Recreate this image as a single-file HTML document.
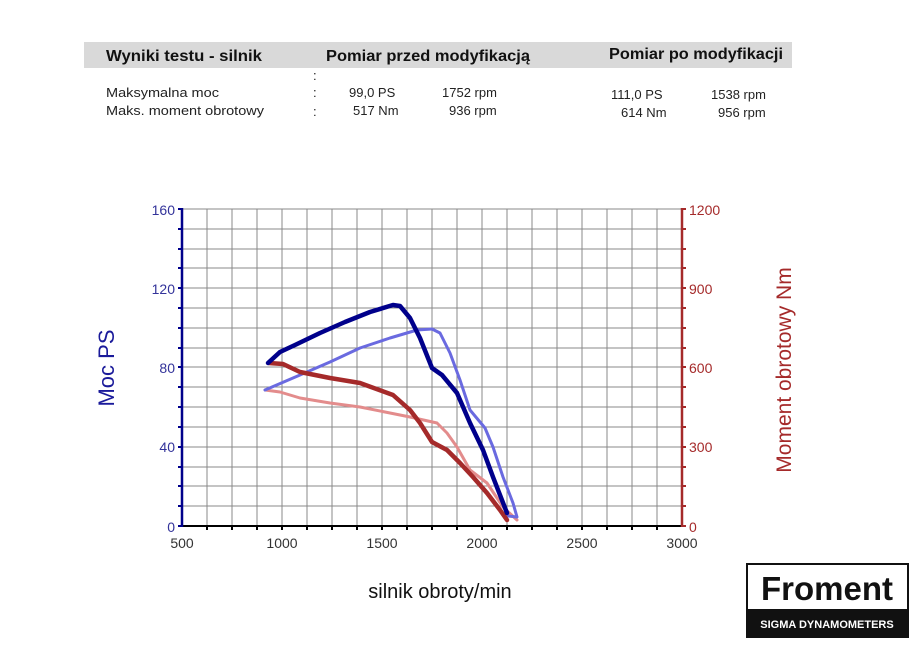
<!DOCTYPE html>
<html><head><meta charset="utf-8"><style>
body{margin:0;background:#fff;width:915px;height:649px;overflow:hidden;font-family:"Liberation Sans",Arial,sans-serif}
</style></head><body>
<svg width="915" height="649" viewBox="0 0 915 649" xmlns="http://www.w3.org/2000/svg" font-family="Liberation Sans, Arial, sans-serif">
<rect x="84" y="42" width="708" height="26" fill="#d9d9d9"/>
<g font-weight="bold" font-size="16" fill="#111">
<text x="106" y="61" textLength="156" lengthAdjust="spacingAndGlyphs">Wyniki testu - silnik</text>
<text x="326" y="61" textLength="204" lengthAdjust="spacingAndGlyphs">Pomiar przed modyfikacją</text>
<text x="609" y="59" textLength="174" lengthAdjust="spacingAndGlyphs">Pomiar po modyfikacji</text>
</g>
<g font-size="13" fill="#222">
<text x="313" y="80">:</text>
<text x="106" y="97" textLength="113" lengthAdjust="spacingAndGlyphs">Maksymalna moc</text><text x="313" y="97">:</text>
<text x="349" y="97">99,0 PS</text><text x="442" y="97">1752 rpm</text>
<text x="611" y="99">111,0 PS</text><text x="711" y="99">1538 rpm</text>
<text x="106" y="115" textLength="158" lengthAdjust="spacingAndGlyphs">Maks. moment obrotowy</text><text x="313" y="116">:</text>
<text x="353" y="115">517 Nm</text><text x="449" y="115">936 rpm</text>
<text x="621" y="117">614 Nm</text><text x="718" y="117">956 rpm</text>
</g>
<g stroke="#888" stroke-width="1">
<path d="M207 209V526M232 209V526M257 209V526M282 209V526M307 209V526M332 209V526M357 209V526M382 209V526M407 209V526M432 209V526M457 209V526M482 209V526M507 209V526M532 209V526M557 209V526M582 209V526M607 209V526M632 209V526M657 209V526"/>
<path d="M182 209H682M182 229H682M182 249H682M182 268H682M182 288H682M182 308H682M182 328H682M182 348H682M182 367H682M182 387H682M182 407H682M182 427H682M182 447H682M182 467H682M182 486H682M182 506H682"/>
</g>
<line x1="181" y1="526" x2="682" y2="526" stroke="#000" stroke-width="2"/>
<g stroke="#000" stroke-width="2"><path d="M207 526v4M232 526v4M257 526v4M282 526v4M307 526v4M332 526v4M357 526v4M382 526v4M407 526v4M432 526v4M457 526v4M482 526v4M507 526v4M532 526v4M557 526v4M582 526v4M607 526v4M632 526v4M657 526v4"/></g>
<line x1="182" y1="208" x2="182" y2="527" stroke="#00008b" stroke-width="2.5"/>
<g stroke="#00008b" stroke-width="2"><path d="M178 209h4M178 229h4M178 249h4M178 268h4M178 288h4M178 308h4M178 328h4M178 348h4M178 367h4M178 387h4M178 407h4M178 427h4M178 447h4M178 467h4M178 486h4M178 506h4M178 526h4"/></g>
<line x1="682" y1="208" x2="682" y2="527" stroke="#a52a2a" stroke-width="2.5"/>
<g stroke="#a52a2a" stroke-width="2"><path d="M682 209h4M682 229h4M682 249h4M682 268h4M682 288h4M682 308h4M682 328h4M682 348h4M682 367h4M682 387h4M682 407h4M682 427h4M682 447h4M682 467h4M682 486h4M682 506h4M682 526h4"/></g>
<g font-size="14" fill="#333" text-anchor="middle">
<text x="182" y="548">500</text><text x="282" y="548">1000</text><text x="382" y="548">1500</text><text x="482" y="548">2000</text><text x="582" y="548">2500</text><text x="682" y="548">3000</text>
</g>
<g font-size="14" fill="#33339a" text-anchor="end">
<text x="175" y="215">160</text><text x="175" y="294">120</text><text x="175" y="373">80</text><text x="175" y="452">40</text><text x="175" y="532">0</text>
</g>
<g font-size="14" fill="#a52a2a">
<text x="689" y="215">1200</text><text x="689" y="294">900</text><text x="689" y="373">600</text><text x="689" y="452">300</text><text x="689" y="532">0</text>
</g>
<text x="440" y="598" font-size="20" fill="#111" text-anchor="middle">silnik obroty/min</text>
<text transform="translate(114,368) rotate(-90)" font-size="22" fill="#1a1a9a" text-anchor="middle">Moc PS</text>
<text transform="translate(791,370) rotate(-90)" font-size="21" fill="#a52a2a" text-anchor="middle">Moment obrotowy Nm</text>
<g fill="none" stroke-linejoin="round" stroke-linecap="round">
<polyline stroke="#e38c8c" stroke-width="3" points="265,390 280,392 300,398 330,403 360,407 385,412 410,417 437,423 447,433 457,447 470,470 487,483 503,507 517,520"/>
<polyline stroke="#6a6ae0" stroke-width="3" points="265,390 300,375 330,362 360,348 390,338 417,330 432,329 440,333 450,353 460,380 470,410 485,428 493,447 503,477 513,503 517,517 508,516"/>
<polyline stroke="#a52a2a" stroke-width="4.5" points="269,363 283,364 300,372 330,378 360,383 393,395 410,410 420,423 432,442 447,450 460,463 473,477 487,493 500,510 507,520"/>
<polyline stroke="#00008b" stroke-width="4.5" points="268,363 280,352 295,345 320,333 345,322 370,312 393,305 400,306 410,318 420,338 432,368 442,375 457,393 470,423 483,450 493,477 507,513"/>
</g>
<rect x="747" y="564" width="161" height="73" fill="#fff" stroke="#111" stroke-width="2"/>
<rect x="747" y="609" width="161" height="28" fill="#111"/>
<text x="827" y="600" font-size="33" font-weight="bold" fill="#111" text-anchor="middle">Froment</text>
<text x="827" y="628" font-size="11" font-weight="bold" fill="#fff" text-anchor="middle">SIGMA DYNAMOMETERS</text>
</svg>
</body></html>
